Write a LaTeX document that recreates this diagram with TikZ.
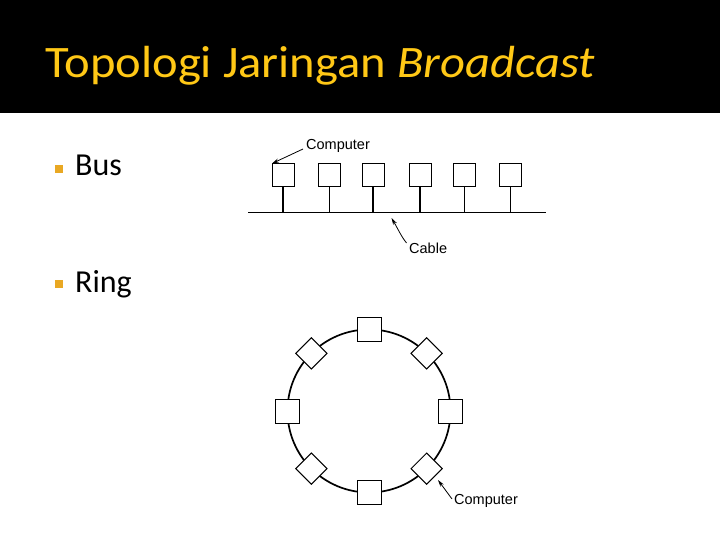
\documentclass[tikz,border=0pt]{standalone}
\usepackage{fontspec}
\setmainfont{Carlito}
\newfontfamily\labfont{Liberation Sans}
\usetikzlibrary{arrows.meta,shapes.geometric}
\definecolor{titleyellow}{HTML}{FFC816}
\definecolor{bulletorange}{HTML}{E9A823}
\tikzset{
  pc/.style={draw=black, fill=white, line width=1pt, minimum width=22pt, minimum height=23pt, inner sep=0pt, outer sep=0pt},
  rpc/.style={draw=black, fill=white, line width=1pt, minimum width=24pt, minimum height=24pt, inner sep=0pt, outer sep=0pt},
  dpc/.style={draw=black, fill=white, line width=1pt, minimum width=22pt, minimum height=22pt, inner sep=0pt, outer sep=0pt, rotate=45},
  lab/.style={font=\labfont\fontsize{14.5}{16}\selectfont, inner sep=0pt},
  bul/.style={fill=bulletorange, minimum size=8pt, inner sep=0pt},
  item/.style={font=\fontsize{32}{36}\selectfont, inner sep=0pt, anchor=base west},
  ptr/.style={-{Stealth[length=7pt,width=4pt]}, line width=0.8pt},
  wire/.style={line width=1.3pt}
}
\begin{document}
\begin{tikzpicture}[x=1pt,y=-1pt]
\useasboundingbox (0,0) rectangle (720,540);
\fill[white] (0,0) rectangle (720,540);
\fill[black] (0,0) rectangle (720,113);
\node[anchor=base west, inner sep=0pt, text=titleyellow, font=\fontsize{45}{52}\selectfont, xscale=1.08] (title) at (45,78) {Topologi Jaringan \textit{Broadcast}};

\node[bul] (bul1) at (58.5,169) {};
\node[item] (bus) at (75,176) {Bus};
\node[bul] (bul2) at (58.5,284) {};
\node[item] (ring) at (75,292) {Ring};

% Bus diagram
\coordinate (cableL) at (248,212.5);
\coordinate (cableR) at (546,212.5);
\draw[wire] (cableL) -- (cableR);
\foreach \i/\x in {1/283,2/329.5,3/373,4/420,5/464.5,6/510.5}{
  \node[pc] (b\i) at (\x,175) {};
  \draw[wire] (b\i.south) -- (b\i.south |- cableL);
}
\node[lab, anchor=west] (comp1) at (306,146) {Computer};
\coordinate (c1tail) at (303,149);
\draw[ptr] (c1tail) -- (b1.north west);
\node[lab, anchor=west] (cable) at (409,248) {Cable};
\coordinate (cabtail) at (406.5,243);
\coordinate (cabtip) at (391.5,218);
\draw[ptr] (cabtail) .. controls (401,236) and (398,229) .. (cabtip);

% Ring diagram
\node[circle, draw=black, line width=1.7pt, minimum size=163pt, inner sep=0pt, outer sep=0pt] (ringc) at (369,411) {};
\node[rpc] (r1) at (ringc.90) {};
\node[rpc] (r2) at (ringc.0) {};
\node[rpc] (r3) at (ringc.270) {};
\node[rpc] (r4) at (ringc.180) {};
\node[dpc] (d1) at (ringc.135) {};
\node[dpc] (d2) at (ringc.45) {};
\node[dpc] (d3) at (ringc.315) {};
\node[dpc] (d4) at (ringc.225) {};
\node[lab, anchor=west] (comp2) at (454,501) {Computer};
\coordinate (c2tail) at (452,499);
\coordinate (c2tip) at (438,480);
\draw[ptr] (c2tail) -- (c2tip);
\end{tikzpicture}
\end{document}
